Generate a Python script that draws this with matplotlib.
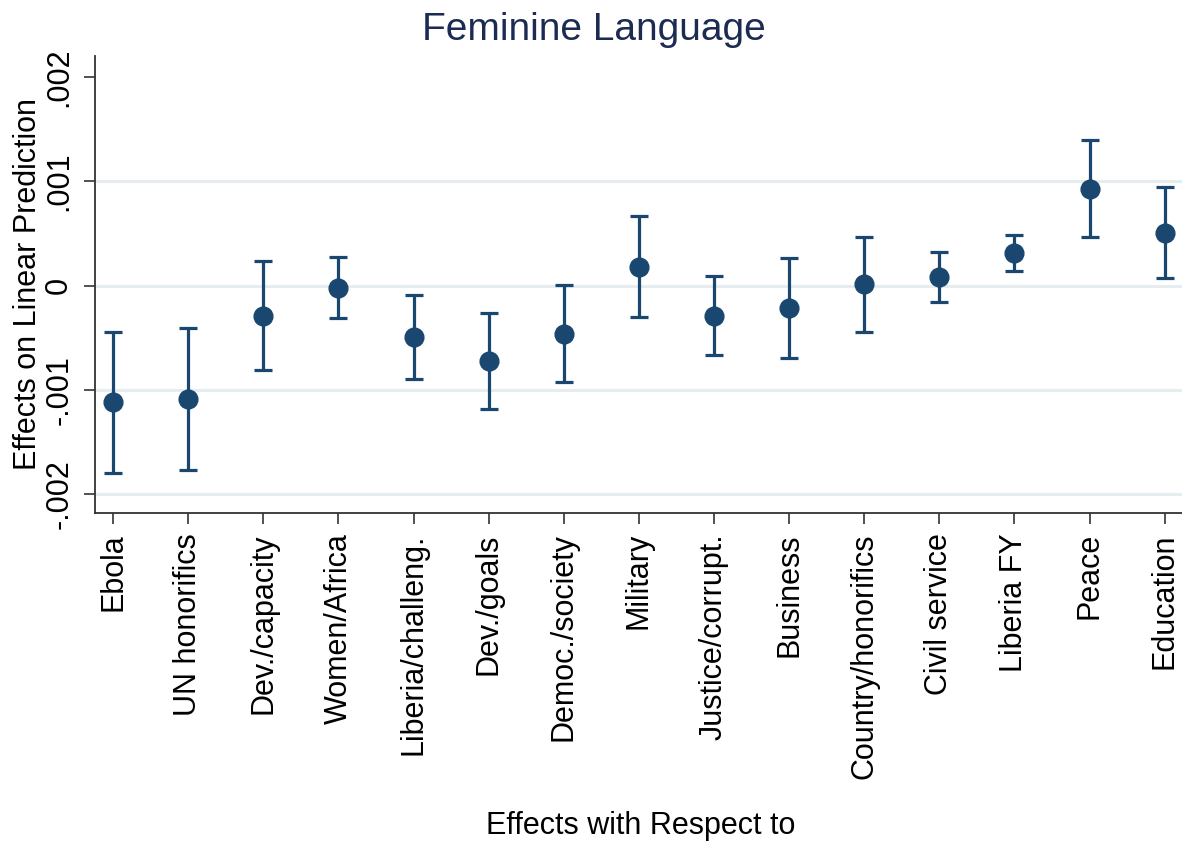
import matplotlib
matplotlib.use("Agg")
import matplotlib.pyplot as plt
import numpy as np

plt.rcParams['font.family'] = ['Liberation Sans', 'DejaVu Sans']

categories = ["Ebola", "UN honorifics", "Dev./capacity", "Women/Africa",
              "Liberia/challeng.", "Dev./goals", "Democ./society", "Military",
              "Justice/corrupt.", "Business", "Country/honorifics",
              "Civil service", "Liberia FY", "Peace", "Education"]
effects = [-0.001118, -0.001086, -0.000288, -0.000019, -0.000489, -0.000722,
           -0.000460, 0.000182, -0.000288, -0.000214, 0.000013, 0.000083,
           0.000310, 0.000930, 0.000508]
ci_upper = [-0.000441, -0.000406, 0.000233, 0.000278, -0.000086, -0.000259,
            0.000010, 0.000665, 0.000096, 0.000262, 0.000466, 0.000326,
            0.000486, 0.001396, 0.000949]
ci_lower = [-0.001796, -0.001764, -0.000811, -0.000313, -0.000895, -0.001182,
            -0.000927, -0.000300, -0.000668, -0.000693, -0.000441, -0.000157,
            0.000141, 0.000466, 0.000077]
y_ticks = [-0.002, -0.001, 0.0, 0.001, 0.002]
y_tick_labels = ["-.002", "-.001", "0", ".001", ".002"]

navy = "#1a476f"
W, H = 1182, 844
fig = plt.figure(figsize=(W / 100, H / 100), dpi=100)
ax = fig.add_axes([95 / W, 1 - 513 / H, 1 - 95 / W, (513 - 56) / H])

x = np.arange(len(categories))
eff = np.array(effects)
lo = np.array(ci_lower)
hi = np.array(ci_upper)
ax.errorbar(x, eff, yerr=[eff - lo, hi - eff], fmt='o', color=navy,
            ecolor=navy, elinewidth=2.3, capsize=6.5, capthick=2.3,
            markersize=13.5, zorder=3)

ax.set_xlim(-0.24, 14.23)
ax.set_ylim(-0.00218, 0.0022)

ax.set_xticks(x)
ax.set_xticklabels(categories, rotation=90, fontsize=22)
ax.set_yticks(y_ticks)
ax.set_yticklabels(y_tick_labels, rotation=90, va='center', fontsize=22)
ax.tick_params(axis='both', length=8, width=1.2, color='#333333')
ax.tick_params(axis='x', pad=6.5)
ax.tick_params(axis='y', pad=7)

ax.yaxis.grid(True, color='#e6edf0', linewidth=2.2, zorder=0)
ax.set_axisbelow(True)
ax.get_ygridlines()[-1].set_visible(False)

for side in ('top', 'right'):
    ax.spines[side].set_visible(False)
for side in ('left', 'bottom'):
    ax.spines[side].set_color('#333333')
    ax.spines[side].set_linewidth(1.3)

ax.set_ylabel("Effects on Linear Prediction", fontsize=22, va='center')
ax.yaxis.set_label_coords((28 - 95) / (W - 95), 0.5)
ax.set_xlabel("Effects with Respect to", fontsize=22, va='center')
ax.xaxis.set_label_coords((641 - 95) / (W - 95), (513 - 826) / (513 - 56))

fig.text(594 / W, 1 - 30 / H, "Feminine Language", fontsize=28,
         color='#1c2b52', ha='center', va='center')

fig.savefig("out.png", dpi=100, facecolor='white')
